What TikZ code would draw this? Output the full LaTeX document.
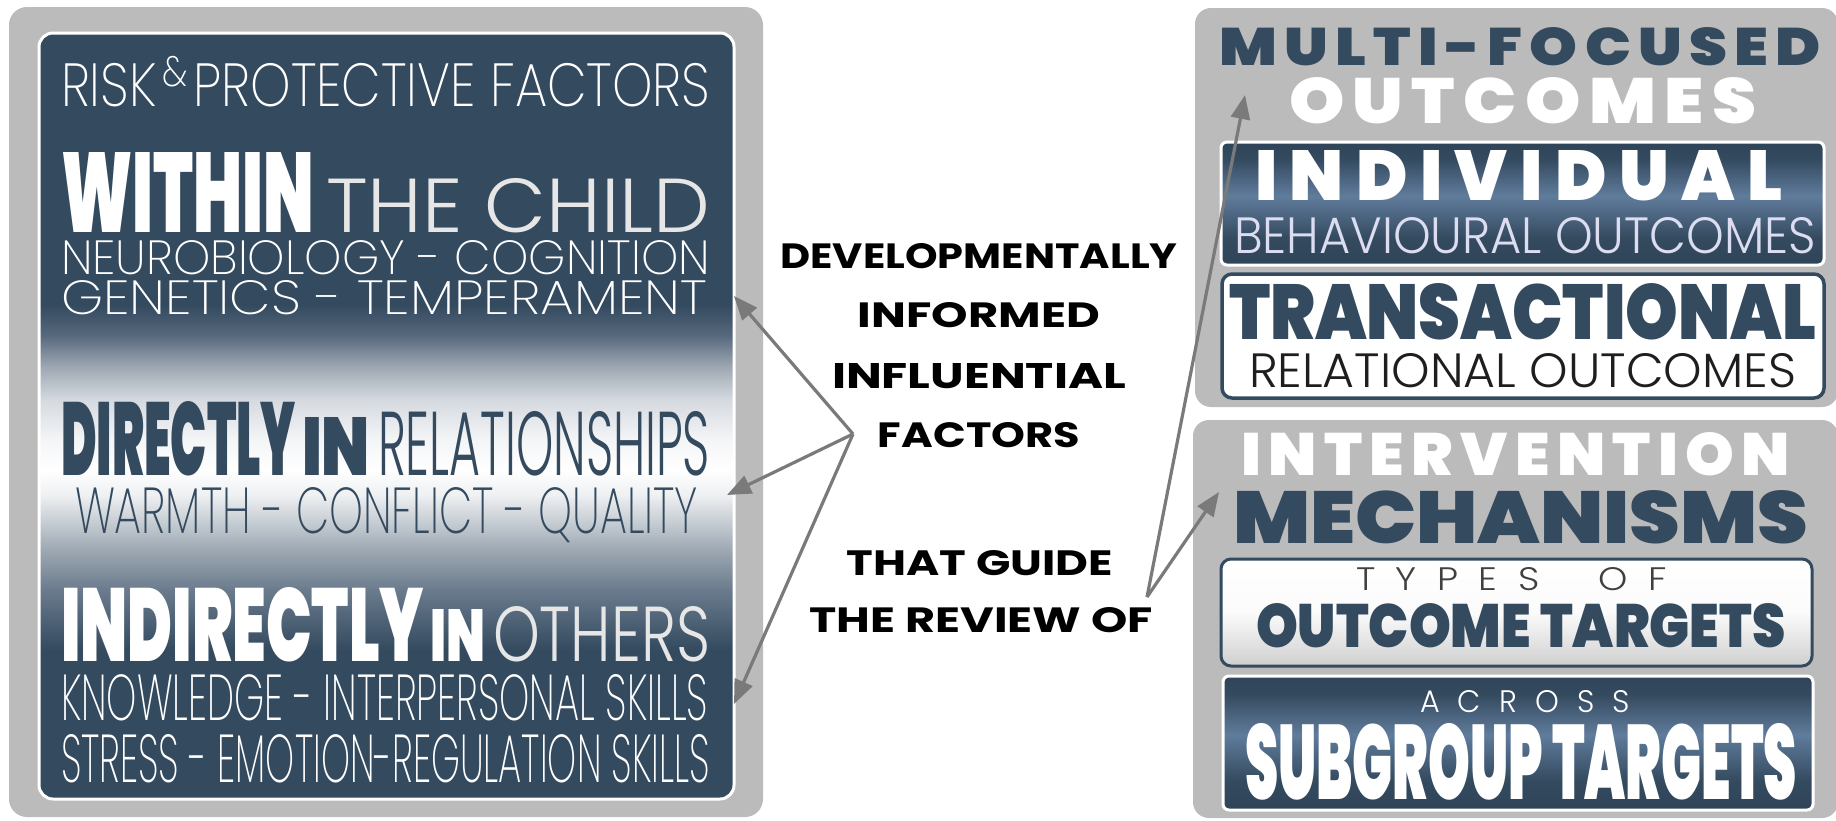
\documentclass[tikz,border=0pt]{standalone}
\usepackage{fontspec}
\usepackage{graphicx}
\usetikzlibrary{arrows.meta}

% ---- type faces (heaviest available weight first) ----
\IfFontExistsTF{Poppins Black}{\newfontfamily\fheavy{Poppins Black}}{%
  \IfFontExistsTF{Poppins ExtraBold}{\newfontfamily\fheavy{Poppins ExtraBold}}{%
    \IfFontExistsTF{Poppins Bold}{\newfontfamily\fheavy{Poppins Bold}}{\newfontfamily\fheavy{Poppins}}}}
\IfFontExistsTF{Poppins Bold}{\newfontfamily\fbold{Poppins Bold}}{\newfontfamily\fbold{Poppins}}
\IfFontExistsTF{Poppins Light}{\newfontfamily\flight{Poppins Light}}{%
  \IfFontExistsTF{Lato Light}{\newfontfamily\flight{Lato Light}}{\newfontfamily\flight{Poppins}}}
% hairline face for the hand-lettered lines
\IfFontExistsTF{Poppins ExtraLight}{\newfontfamily\fhair{Poppins ExtraLight}}{%
  \IfFontExistsTF{Poppins Thin}{\newfontfamily\fhair{Poppins Thin}}{\let\fhair\flight}}

% ---- colours ----
\definecolor{navy}{HTML}{344A5F}
\definecolor{boxdark}{HTML}{2F4459}
\definecolor{steel}{HTML}{607C9C}
\definecolor{panelgray}{HTML}{BBBBBB}
\definecolor{arrowgray}{HTML}{7A7A7A}
\definecolor{softwhite}{HTML}{E6E6E6}
\definecolor{lavender}{HTML}{DCDDF0}
\definecolor{nearblack}{HTML}{1E1E1E}
\definecolor{typesbot}{HTML}{CFCFCF}
\definecolor{lbA}{HTML}{56687C}
\definecolor{lbB}{HTML}{9EA8B3}
\definecolor{lbC}{HTML}{D5DAE0}
\definecolor{lbD}{HTML}{F4F5F7}
\definecolor{lbE}{HTML}{EEF0F2}
\definecolor{lbF}{HTML}{9DA8B3}
\definecolor{lbG}{HTML}{6A7B8D}

% navy panel with a pale band through its middle
\pgfdeclareverticalshading{leftband}{100bp}{%
  color(0bp)=(navy); color(34.73bp)=(navy); color(38.64bp)=(lbG);
  color(41.25bp)=(lbF); color(44.84bp)=(lbE); color(46.48bp)=(white);
  color(48.43bp)=(lbD); color(51.04bp)=(lbC); color(53.20bp)=(lbB);
  color(55.29bp)=(lbA); color(57.25bp)=(navy); color(100bp)=(navy)}

% dark box with a lighter steel band a little above its middle
\pgfdeclareverticalshading{steelband}{100bp}{%
  color(0bp)=(boxdark); color(25bp)=(boxdark); color(36bp)=(navy);
  color(53bp)=(steel); color(68bp)=(navy); color(75bp)=(boxdark); color(100bp)=(boxdark)}

% squeeze a line of text into a given width and cap height
\newcommand{\fit}[3]{\resizebox{#1pt}{#2pt}{#3}}
\newcommand{\spaced}[1]{\addfontfeatures{LetterSpace=#1}}

\tikzset{
  lline/.style={inner sep=0pt, outer sep=0pt, anchor=base west},
  cline/.style={inner sep=0pt, outer sep=0pt, anchor=base},
  arr/.style={draw=arrowgray, line width=3.2pt, -{Triangle[length=24pt,width=19pt]}},
}

\begin{document}
\begin{tikzpicture}[x=1pt, y=1pt]
\useasboundingbox (0,0) rectangle (1836,-820);
\fill[white] (0,0) rectangle (1836,-820);

% ================= left panel =================
\fill[panelgray, rounded corners=18pt] (9,-7) rectangle (763,-817);
\shade[shading=leftband, rounded corners=14pt] (39,-33) rectangle (734,-799);
\draw[white, line width=3pt, rounded corners=14pt] (39,-33) rectangle (734,-799);

\node[lline, text=white] (risk) at (61,-106)
  {\fit{649}{50}{\fhair RISK\raisebox{.6ex}{\scriptsize\,\&\,}PROTECTIVE FACTORS}};

\node[lline, text=white] (within) at (61,-232) {\fit{253}{80}{\fheavy WITHIN}};
\node[lline, text=softwhite] (child) at (326,-232) {\fit{384}{54}{\flight THE CHILD}};
\node[lline, text=white] (neuro) at (61,-274) {\fit{649}{34}{\fhair NEUROBIOLOGY - COGNITION}};
\node[lline, text=white] (genetics) at (61,-314) {\fit{646}{34}{\fhair GENETICS - TEMPERAMENT}};

\node[lline, text=navy] (directly) at (61,-475) {\fit{235}{74}{\fheavy DIRECTLY}};
\node[lline, text=navy] (inrel) at (302,-475) {\fit{68}{58}{\fheavy IN}};
\node[lline, text=navy] (relationships) at (378,-475) {\fit{332}{64}{\flight RELATIONSHIPS}};
\node[lline, text=navy] (warmth) at (75,-533) {\fit{623}{46}{\fhair WARMTH - CONFLICT - QUALITY}};

\node[lline, text=white] (indirectly) at (61,-661) {\fit{363}{74}{\fheavy INDIRECTLY}};
\node[lline, text=white] (inoth) at (430,-661) {\fit{55}{52}{\fheavy IN}};
\node[lline, text=softwhite] (others) at (493,-661) {\fit{217}{55}{\flight OTHERS}};
\node[lline, text=white] (knowledge) at (61,-720) {\fit{647}{46}{\fhair KNOWLEDGE - INTERPERSONAL SKILLS}};
\node[lline, text=white] (stress) at (61,-782) {\fit{649}{48}{\fhair STRESS - EMOTION-REGULATION SKILLS}};

% ================= middle words =================
\node[cline, text=black] (dev) at (979,-268) {\fit{397}{25}{\fbold DEVELOPMENTALLY}};
\node[cline, text=black] (informed) at (979,-327) {\fit{242}{25}{\fbold INFORMED}};
\node[cline, text=black] (influential) at (979,-388) {\fit{294}{25}{\fbold INFLUENTIAL}};
\node[cline, text=black] (factors) at (979,-447) {\fit{202}{25}{\fbold FACTORS}};
\node[cline, text=black] (guide) at (980,-575) {\fit{266}{25}{\fbold THAT GUIDE}};
\node[cline, text=black] (review) at (981,-632) {\fit{343}{25}{\fbold THE REVIEW OF}};

% ================= outcomes panel =================
\fill[panelgray, rounded corners=16pt] (1195,-8) rectangle (1838,-407);
\node[lline, text=navy] (multi) at (1219,-65) {\fit{602}{38}{\fheavy\spaced{12}MULTI-FOCUSED}};
\node[lline, text=white] (outcomes) at (1289,-123) {\fit{467}{46}{\fheavy\spaced{12}OUTCOMES}};

\shadedraw[shading=steelband, draw=white, line width=3pt, rounded corners=6pt]
  (1221,-142) rectangle (1824,-265);
\node[lline, text=white] (individual) at (1255,-200) {\fit{527}{50}{\fheavy\spaced{18}INDIVIDUAL}};
\node[lline, text=lavender] (behavioural) at (1234,-253) {\fit{582}{36}{\flight BEHAVIOURAL OUTCOMES}};

\filldraw[fill=white, draw=navy, line width=3.5pt, rounded corners=10pt] (1222,-274) rectangle (1824,-398);
\node[lline, text=navy] (transactional) at (1229,-339) {\fit{587}{56}{\fheavy TRANSACTIONAL}};
\node[lline, text=nearblack] (relational) at (1249,-387) {\fit{547}{34}{\flight RELATIONAL OUTCOMES}};

% ================= mechanisms panel =================
\fill[panelgray, rounded corners=16pt] (1193,-420) rectangle (1838,-818);
\node[lline, text=white] (intervention) at (1241,-475) {\fit{549}{43}{\fheavy\spaced{12}INTERVENTION}};
\node[lline, text=navy] (mechanisms) at (1233,-543) {\fit{575}{53}{\fheavy MECHANISMS}};

\shadedraw[top color=white, bottom color=typesbot, middle color=white!92!typesbot,
  draw=navy, line width=3pt, rounded corners=10pt] (1221,-559) rectangle (1812,-666);
\node[lline, text=nearblack!85] (typesof) at (1356,-590)
  {\fit{311}{23}{\flight T\hspace{.55em}Y\hspace{.55em}P\hspace{.55em}E\hspace{.55em}S\hspace{1.6em}O\hspace{.55em}F}};
\node[lline, text=navy] (outcometargets) at (1256,-647) {\fit{529}{44}{\fheavy OUTCOME TARGETS}};

\shadedraw[shading=steelband, draw=white, line width=3pt, rounded corners=6pt]
  (1223,-676) rectangle (1813,-810);
\node[lline, text=white] (across) at (1420,-712)
  {\fit{210}{22}{\flight A\hspace{.6em}C\hspace{.6em}R\hspace{.6em}O\hspace{.6em}S\hspace{.6em}S}};
\node[lline, text=white] (subgroup) at (1245,-799) {\fit{552}{76}{\fheavy SUBGROUP TARGETS}};

% ================= connectors =================
\coordinate (jl) at (853,-434);
\coordinate (tgen) at (734,-296);
\coordinate (twarm) at (727,-495);
\coordinate (tknow) at (734,-704);
\coordinate (jr) at (1147,-597);
\coordinate (tmulti) at (1245,-95);
\coordinate (tmech) at (1219,-492);

\draw[arr] (jl) -- (tgen);
\draw[arr] (jl) -- (twarm);
\draw[arr] (jl) -- (tknow);
\draw[arr] (jr) -- (tmulti);
\draw[arr] (jr) -- (tmech);
\end{tikzpicture}
\end{document}
